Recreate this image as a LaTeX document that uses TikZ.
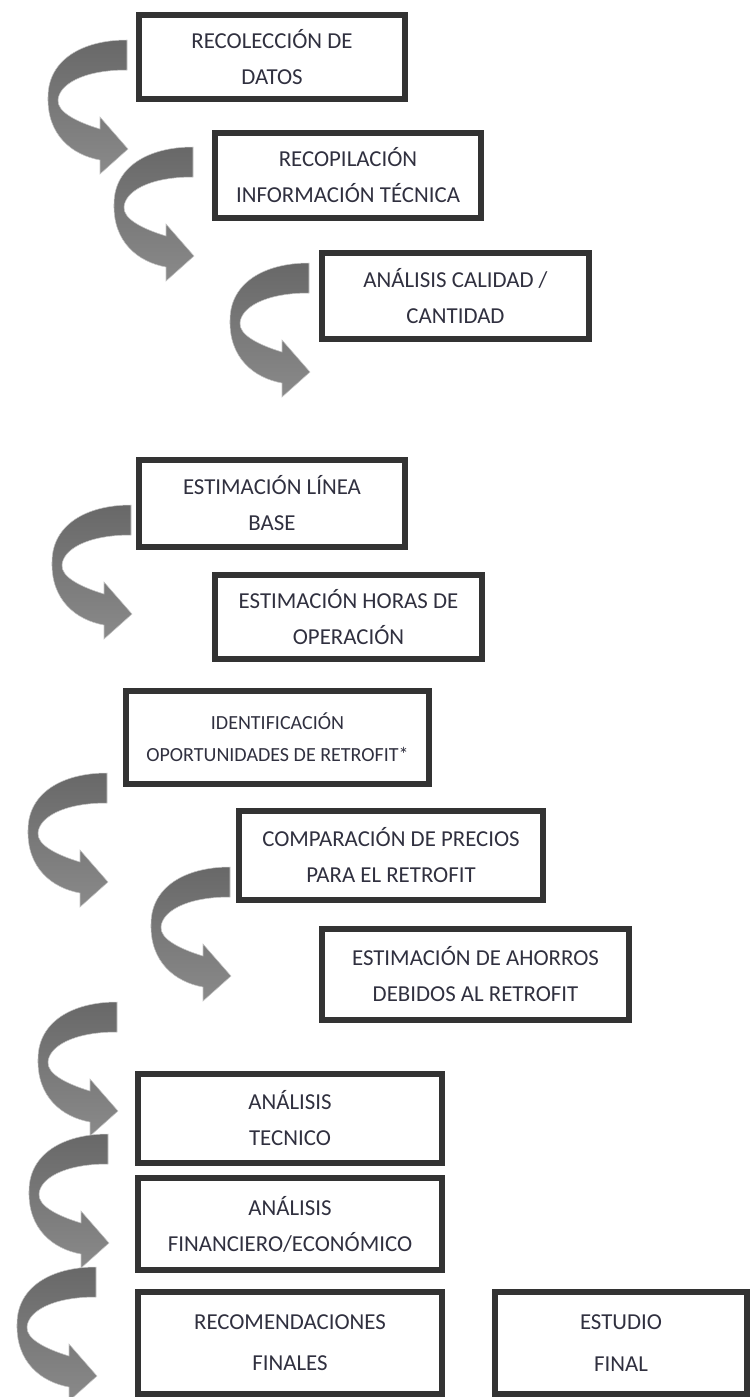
\documentclass[tikz,border=0pt]{standalone}
\usepackage{fontspec}
\setmainfont{Carlito}
\definecolor{boxline}{HTML}{333333}
\definecolor{txtc}{HTML}{30303F}
\definecolor{arrowtop}{HTML}{686868}
\definecolor{arrowbot}{HTML}{8A8A8A}

\begin{document}
\begin{tikzpicture}[
	x = 0.02cm, y = -0.02cm,
	stepbox/.style = {draw=boxline, line width=3.4pt, rectangle, inner sep=0pt,
		align=center, text=txtc, font=\fontsize{13}{20.5}\selectfont},
	smalltext/.style = {font=\fontsize{11.4}{18}\selectfont},
	turnarrow/.pic = {
		\shade [top color=arrowtop, bottom color=arrowbot, draw=arrowbot!50!white, line width=0.3pt]
		(0,0) .. controls (-45,0) and (-79,20) .. (-79,57)
		.. controls (-80,95) and (-55,115) .. (-27,120)
		-- (-27,134) -- (1,109) -- (-27,77) -- (-27,89)
		.. controls (-50,82) and (-70,72) .. (-69,60)
		.. controls (-68,45) and (-45,30) .. (0,30) -- cycle;
	}
	]
	\useasboundingbox (0,0) rectangle (750,1397);

	\node [stepbox, minimum width=5.32cm, minimum height=1.68cm] (datos) at (272,57) {RECOLECCIÓN DE\\DATOS};
	\node [stepbox, minimum width=5.32cm, minimum height=1.70cm] (tecnica) at (348,175.5) {RECOPILACIÓN\\INFORMACIÓN TÉCNICA};
	\node [stepbox, minimum width=5.34cm, minimum height=1.72cm] (calidad) at (455.5,296) {ANÁLISIS CALIDAD /\\CANTIDAD};

	\node [stepbox, minimum width=5.32cm, minimum height=1.74cm] (lineabase) at (272,503.5) {ESTIMACIÓN LÍNEA\\BASE};
	\node [stepbox, minimum width=5.34cm, minimum height=1.68cm] (horas) at (348.5,617) {ESTIMACIÓN HORAS DE\\OPERACIÓN};

	\node [stepbox, smalltext, minimum width=6.06cm, minimum height=1.86cm] (oportunidades) at (277.5,737.5) {IDENTIFICACIÓN\\OPORTUNIDADES DE RETROFIT*};
	\node [stepbox, minimum width=6.08cm, minimum height=1.78cm] (precios) at (391,855.5) {COMPARACIÓN DE PRECIOS\\PARA EL RETROFIT};
	\node [stepbox, minimum width=6.14cm, minimum height=1.82cm] (ahorros) at (475.5,974.5) {ESTIMACIÓN DE AHORROS\\DEBIDOS AL RETROFIT};

	\node [stepbox, minimum width=6.08cm, minimum height=1.78cm] (tecnico) at (290,1118.5) {ANÁLISIS\\TECNICO};
	\node [stepbox, minimum width=6.08cm, minimum height=1.84cm] (financiero) at (290,1224) {ANÁLISIS\\FINANCIERO/ECONÓMICO};
	\node [stepbox, minimum width=6.08cm, minimum height=2.04cm] (recomendaciones) at (290,1343) {RECOMENDACIONES\\[3pt]FINALES};
	\node [stepbox, minimum width=5.04cm, minimum height=2.04cm] (estudio) at (621,1343) {ESTUDIO\\[3pt]FINAL};

	\foreach \ax/\ay in {127/40, 193/147, 309/263, 131/505, 107/773, 230/867, 117/1002, 108/1134, 96/1267}
		\pic at (\ax,\ay) {turnarrow};
\end{tikzpicture}
\end{document}
